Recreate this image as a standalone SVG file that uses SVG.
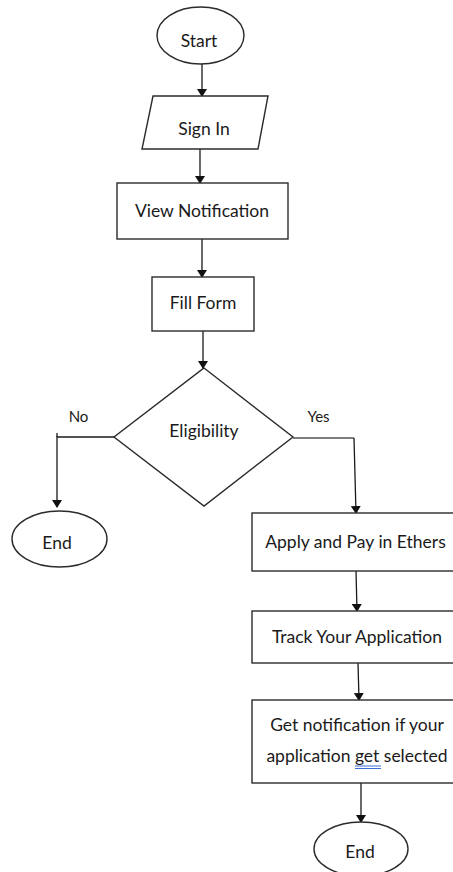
<svg xmlns="http://www.w3.org/2000/svg" width="453" height="872" viewBox="0 0 453 872">
<style>
.s{fill:#fff;stroke:#2b2b2b;stroke-width:1.4}
.c{fill:none;stroke:#1a1a1a;stroke-width:1.3}
.t{font-family:Lato,"Open Sans",sans-serif;font-size:17.5px;fill:#1a1a1a;text-anchor:middle}
.l{font-family:Lato,"Open Sans",sans-serif;font-size:15px;fill:#1a1a1a;text-anchor:middle}
</style>
<defs>
<marker id="a" markerWidth="8" markerHeight="10" refX="7" refY="5" orient="auto" markerUnits="userSpaceOnUse" viewBox="0 0 8 10">
<path d="M0,0 L8,5 L0,10 Z" fill="#111"/>
</marker>
</defs>
<rect width="453" height="872" fill="#fff"/>
<g id="connectors">
<line class="c" x1="202" y1="64" x2="202" y2="96" marker-end="url(#a)"/>
<line class="c" x1="200" y1="149" x2="200" y2="183" marker-end="url(#a)"/>
<line class="c" x1="202" y1="239" x2="202" y2="277" marker-end="url(#a)"/>
<line class="c" x1="203" y1="331" x2="203" y2="368" marker-end="url(#a)"/>
<polyline class="c" points="114,437 57,437 57,507" marker-end="url(#a)"/>
<line class="c" x1="57" y1="433" x2="57" y2="437"/>
<polyline class="c" style="stroke:#555" points="293,438 354,438"/>
<polyline class="c" points="354,438 356,513" marker-end="url(#a)"/>
<line class="c" x1="356" y1="571" x2="357" y2="611" marker-end="url(#a)"/>
<line class="c" x1="358" y1="663" x2="359" y2="700" marker-end="url(#a)"/>
<line class="c" x1="361" y1="783" x2="361" y2="822" marker-end="url(#a)"/>
</g>
<g id="start">
<ellipse class="s" cx="200.5" cy="35.5" rx="43.5" ry="28.5"/>
<text class="t" x="199" y="47">Start</text>
</g>
<g id="signin">
<polygon class="s" points="153,96 268,96 258,149 142,149"/>
<text class="t" x="204" y="135">Sign In</text>
</g>
<g id="viewnotification">
<rect class="s" x="117" y="183" width="171" height="56"/>
<text class="t" x="202" y="217">View Notification</text>
</g>
<g id="fillform">
<rect class="s" x="152" y="277" width="102" height="54"/>
<text class="t" x="203" y="309">Fill Form</text>
</g>
<g id="eligibility">
<polygon class="s" points="204,368 293,437 204,506 114,437"/>
<text class="t" x="204" y="437">Eligibility</text>
</g>
<g id="labels">
<text class="l" x="78.5" y="422">No</text>
<text class="l" x="318.5" y="422">Yes</text>
</g>
<g id="end1">
<ellipse class="s" cx="59.5" cy="539" rx="47.5" ry="28"/>
<text class="t" x="57" y="549">End</text>
</g>
<g id="apply">
<rect class="s" x="252" y="513" width="210" height="58"/>
<text class="t" x="355.5" y="548">Apply and Pay in Ethers</text>
</g>
<g id="track">
<rect class="s" x="252" y="611" width="210" height="52"/>
<text class="t" x="357" y="643">Track Your Application</text>
</g>
<g id="getnotification">
<rect class="s" x="252" y="700" width="210" height="83"/>
<text class="t" x="357" y="731">Get notification if your</text>
<text class="t" x="357" y="762">application get selected</text>
<line x1="355" y1="766" x2="381" y2="766" stroke="#3b6fd4" stroke-width="1"/>
<line x1="355" y1="768.5" x2="381" y2="768.5" stroke="#3b6fd4" stroke-width="1"/>
</g>
<g id="end2">
<ellipse class="s" cx="361" cy="849" rx="47" ry="27"/>
<text class="t" x="360" y="858">End</text>
</g>
</svg>
